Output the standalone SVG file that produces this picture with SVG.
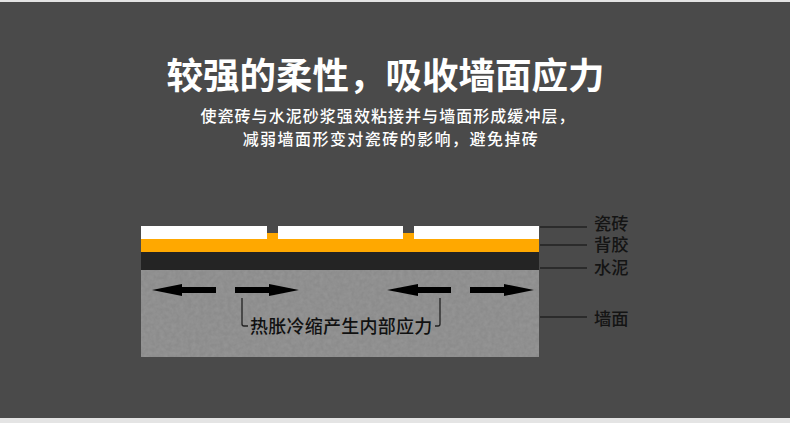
<svg xmlns="http://www.w3.org/2000/svg" width="790" height="423" viewBox="0 0 790 423">
<defs>
<style>
text{font-family:"Liberation Sans","Noto Sans CJK SC",sans-serif}
.t{fill:#fff;text-anchor:middle}
.sub{font-size:16px;font-weight:500}
.lab{font-size:17.3px;fill:#141414;font-weight:500}
.ld{stroke:#222;stroke-width:1.3;fill:none}
.ar{fill:#000}
</style>
<filter id="n" x="0" y="0" width="100%" height="100%"><feTurbulence type="fractalNoise" baseFrequency="0.25" numOctaves="2" seed="4"/><feColorMatrix values="0 0 0 0 0.48 0 0 0 0 0.48 0 0 0 0 0.48 0.28 0 0 0 -0.07"/><feComposite in2="SourceGraphic" operator="in"/><feMerge><feMergeNode in="SourceGraphic"/><feMergeNode/></feMerge></filter>
</defs>
<rect width="790" height="423" fill="#e4e4e4"/>
<rect y="2" width="790" height="416" fill="#4a4a4a"/>
<g id="title">
<text class="t" x="385.5" y="89" font-size="36.5" font-weight="700">较强的柔性，吸收墙面应力</text>
<text class="t sub" x="388" y="122" letter-spacing="1.05">使瓷砖与水泥砂浆强效粘接并与墙面形成缓冲层，</text>
<text class="t sub" x="391" y="145" letter-spacing="1.45">减弱墙面形变对瓷砖的影响，避免掉砖</text>
</g>
<g id="wall"><rect x="141" y="270" width="398" height="87" fill="#8c8c8c" filter="url(#n)"/></g>
<g id="cement"><rect x="141" y="252" width="398" height="18" fill="#242424"/></g>
<g id="adhesive"><path d="M141 239H267V233H278V239H403V233H414V239H539V252H141Z" fill="#ffa800"/></g>
<g id="tiles" fill="#fff">
<rect x="141" y="226" width="126" height="13"/>
<rect x="278" y="226" width="125" height="13"/>
<rect x="414" y="226" width="125" height="13"/>
</g>
<g id="connectors">
<path class="ar" d="M152 290L182 284V287H216V293H182V296Z"/>
<path class="ar" d="M299 290L269 284V287H235V293H269V296Z"/>
<path class="ar" d="M387 290L418 284V287H451V293H418V296Z"/>
<path class="ar" d="M534 290L504 284V287H470V293H504V296Z"/>
<path class="ld" d="M242 298V324Q242 326 244 326H248"/>
<path class="ld" d="M440 298V324Q440 326 438 326H435"/>
<path class="ld" d="M540 227H587"/>
<path class="ld" d="M540 245H587"/>
<path class="ld" d="M540 268H587"/>
<path class="ld" d="M540 317H587"/>
</g>
<g id="labels">
<text x="250" y="333" font-size="18" fill="#111" font-weight="500" letter-spacing="0.25">热胀冷缩产生内部应力</text>
<text class="lab" x="594" y="230">瓷砖</text>
<text class="lab" x="594" y="251">背胶</text>
<text class="lab" x="594" y="274">水泥</text>
<text class="lab" x="594" y="325">墙面</text>
</g>
</svg>
